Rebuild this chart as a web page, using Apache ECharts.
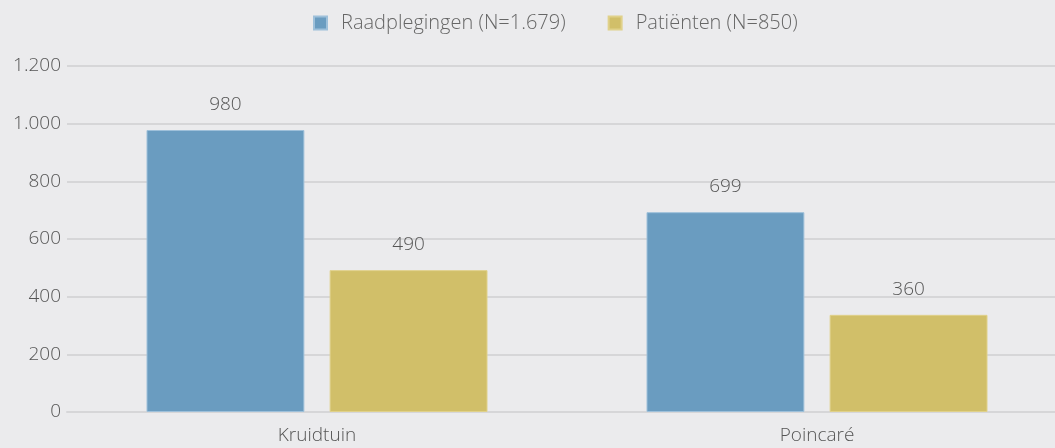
<!DOCTYPE html>
<html><head><meta charset="utf-8">
<script src="https://cdn.jsdelivr.net/npm/echarts@6/dist/echarts.min.js"></script>
<style>html,body{margin:0;padding:0;background:#ebebed;overflow:hidden}#c{width:1067px;height:448px}</style>
</head><body><div id="c"></div>
<script>
const categories = ['Kruidtuin', 'Poincaré'];
const seriesNames = ['Raadplegingen (N=1.679)', 'Patiënten (N=850)'];
const raadplegingen = [978, 693];
const patienten = [492, 337];
const raadLabels = ['980', '699'];
const patLabels = ['490', '360'];
const yTicks = [0, 200, 400, 600, 800, 1000, 1200];

const font = "'Open Sans', sans-serif";
const chart = echarts.init(document.getElementById('c'), null, {renderer: 'canvas'});
const lblFmt = arr => p => arr[p.dataIndex];
chart.setOption({
  backgroundColor: '#ebebed',
  animation: false,
  textStyle: {fontFamily: font},
  legend: {
    top: 8, left: 308, itemWidth: 13, itemHeight: 13, itemGap: 42,
    icon: 'rect',
    textStyle: {fontSize: 20, color: '#666', fontFamily: font, fontWeight: 300, padding: [0, 0, 0, 9]},
    data: seriesNames
  },
  grid: {left: 67, right: 0, top: 66, bottom: 36, containLabel: false},
  xAxis: {
    type: 'category', data: categories,
    axisLine: {lineStyle: {color: '#d6d6d8', width: 2}},
    axisTick: {show: false},
    axisLabel: {fontSize: 19, color: '#555', fontFamily: font, fontWeight: 300, margin: 14}
  },
  yAxis: {
    type: 'value', min: yTicks[0], max: yTicks[yTicks.length-1], interval: 200,
    axisLine: {show: false}, axisTick: {show: false},
    splitLine: {lineStyle: {color: '#d6d6d8', width: 2}},
    axisLabel: {fontSize: 19, color: '#555', fontFamily: font, fontWeight: 300, margin: 6,
      formatter: v => v >= 1000 ? (v/1000).toFixed(3) : String(v)}
  },
  series: [
    {name: seriesNames[0], type: 'bar', data: raadplegingen, barGap: '16%', barCategoryGap: '31.8%',
     itemStyle: {color: '#6a9cc0', borderColor: '#9ec0da', borderWidth: 1},
     label: {show: true, position: 'top', distance: 16, fontSize: 19, color: '#555', fontFamily: font, fontWeight: 300, formatter: lblFmt(raadLabels)}},
    {name: seriesNames[1], type: 'bar', data: patienten,
     itemStyle: {color: '#d1bf69', borderColor: '#e0d18a', borderWidth: 1},
     label: {show: true, position: 'top', distance: 16, fontSize: 19, color: '#555', fontFamily: font, fontWeight: 300, formatter: lblFmt(patLabels)}}
  ]
});
</script></body></html>
